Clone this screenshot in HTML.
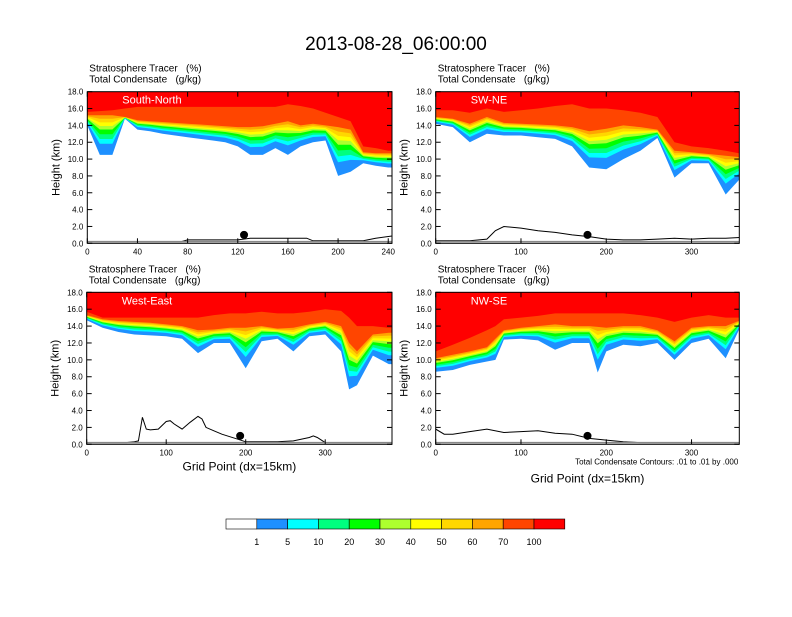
<!DOCTYPE html>
<html><head><meta charset="utf-8"><style>
body{margin:0;background:#fff;width:792px;height:612px;overflow:hidden}
svg text{font-family:"Liberation Sans",sans-serif;fill:#000;white-space:pre}
</style></head><body>
<svg id="chart" width="792" height="612" viewBox="0 0 792 612" xmlns="http://www.w3.org/2000/svg">
<text x="396" y="50" font-size="19" text-anchor="middle">2013-08-28_06:00:00</text>
<g id="panels"></g>
<g id="colorbar"></g>
</svg>
<script>
const NS="http://www.w3.org/2000/svg";
const levelLabels=["1","5","10","20","30","40","50","60","70","100"];
const colors=["#ffffff","#1e90ff","#00ffff","#00ff7f","#00ff00","#adff2f","#ffff00","#ffd700","#ffa500","#ff4500","#ff0000"];
const fracs=[0,0.28,0.4,0.52,0.64,0.73,0.82,0.91,1];
// Panel 1 South-North
const p1x=[0,10,20,30,40,50,60,70,80,90,100,110,120,130,140,150,160,170,180,190,200,210,220,230,240,250];
const p1base=[14,10.5,10.5,14.8,13.5,13.3,13,12.8,12.6,12.4,12.2,12,11.5,10.5,10.5,11.3,10.5,11.5,12,12.2,8,8.5,9.5,9.2,9,9];
const p1l70=[15.2,15.2,15.2,15,14.6,14.5,14.4,14.3,14.2,14.1,14,13.9,13.8,13.8,13.9,14.2,14.5,14,14.2,14,13.8,13.5,10.8,10.7,10.7,10.7];
const p1l100=[15.6,15.7,15.8,16,16.2,16.2,16.2,16.2,16.2,16.2,16.2,16.2,16.2,16.2,16.2,16.2,16.5,16.3,16,15.5,15,14.5,11.5,11.3,11,11];
const p1tx=[0,40,75,80,120,130,175,180,220,230,245];
const p1ter=[0.2,0.2,0.2,0.4,0.4,0.6,0.6,0.3,0.3,0.6,0.9];
// Panel 2 SW-NE
const p2x=[0,20,40,60,80,100,120,140,160,180,200,220,240,260,280,300,320,340,360];
const p2base=[14.2,13.8,12,13,12.8,12.8,12.6,12.4,11.5,9,8.8,10,11,12.5,7.8,9.5,9.5,5.8,8];
const p2l70=[15,14.8,14.2,15,14.3,14.2,14.1,14,13.8,13.3,13.6,14,13.8,13.5,11,10.8,10.6,10.4,10.2];
const p2l100=[15.8,15.8,15.5,16,15.6,15.8,16,16.3,16.5,16,16,15.8,15.5,15,12,11.5,11.3,11,10.6];
const p2tx=[0,20,40,60,70,80,100,120,140,160,180,200,220,240,260,280,300,320,340,360];
const p2ter=[0.3,0.3,0.3,0.5,1.5,2,1.8,1.5,1.3,1,0.8,0.5,0.4,0.4,0.5,0.6,0.5,0.6,0.6,0.7];
// Panel 3 West-East
const p3x=[0,20,40,60,80,100,120,140,160,180,200,220,240,260,280,300,320,330,340,360,380,390];
const p3base=[14.7,13.8,13.3,13,12.9,12.8,12.5,10.8,12,12,9,12.2,12.5,11,12.8,13,11,6.5,7,10.5,9.5,9.5];
const p3l70=[15.3,14.8,14.6,14.5,14.4,14.2,14,13.5,13.6,13.8,13.8,14,13.7,13.8,14.2,14.5,14,12,11,13,13.2,13.2];
const p3l100=[15.7,15,15,15,15,15,15,15,15.3,15.5,15.5,15.7,15.5,15.5,15.7,16,15.8,15,14,14,13.8,13.8];
const p3tx=[0,50,60,65,70,75,80,90,100,105,110,120,130,140,145,150,160,170,180,190,200,220,240,260,280,285,290,300,320,384];
const p3ter=[0.2,0.2,0.3,0.4,3.2,1.8,1.7,1.8,2.7,2.8,2.4,1.8,2.6,3.3,3.0,2.0,1.6,1.2,0.9,0.6,0.3,0.3,0.3,0.4,0.8,1.0,0.8,0.2,0.2,0.2];
// Panel 4 NW-SE
const p4x=[0,20,40,60,70,80,100,120,140,160,180,190,200,220,240,260,280,300,320,340,360];
const p4base=[8.6,8.8,9.4,9.8,10,12.4,12.5,12.3,11.2,12,12,8.5,11,11.8,11.6,12,10,12,12.5,10.2,14.5];
const p4l70=[10.2,10.6,11,11.5,12.5,13.5,13.8,14,14.2,14,14,13.9,13.8,14,14,13.5,12.2,13.8,14,14,14.8];
const p4l100=[11,11.8,12.6,13.5,14,14.8,15,15.2,15.5,15.5,15.5,15.5,15.5,15.5,15.3,15,14.5,15,15.3,15,15];
const p4tx=[0,10,20,40,60,80,100,120,140,160,180,200,220,240,360];
const p4ter=[1.8,1.2,1.2,1.5,1.8,1.4,1.5,1.6,1.3,1.2,0.7,0.5,0.3,0.2,0.2];

const panels=[
 {name:"south-north",label:"South-North",L:87.3,R:392,T:91.7,B:243.3,xmax:243,xt:[0,40,80,120,160,200,240],xs:p1x,base:p1base,l70:p1l70,l100:p1l100,tx:p1tx,ter:p1ter,dot:125,xlab:false},
 {name:"sw-ne",label:"SW-NE",L:435.7,R:739.3,T:91.7,B:243.3,xmax:356,xt:[0,100,200,300],xs:p2x,base:p2base,l70:p2l70,l100:p2l100,tx:p2tx,ter:p2ter,dot:178,xlab:false},
 {name:"west-east",label:"West-East",L:86.7,R:392,T:292.3,B:444.3,xmax:384,xt:[0,100,200,300],xs:p3x,base:p3base,l70:p3l70,l100:p3l100,tx:p3tx,ter:p3ter,dot:193,xlab:true},
 {name:"nw-se",label:"NW-SE",L:435.7,R:739.3,T:292.3,B:444.3,xmax:356,xt:[0,100,200,300],xs:p4x,base:p4base,l70:p4l70,l100:p4l100,tx:p4tx,ter:p4ter,dot:178,xlab:true}
];
function mk(tag,attrs,parent){const e=document.createElementNS(NS,tag);for(const k in attrs)e.setAttribute(k,attrs[k]);if(parent)parent.appendChild(e);return e;}
const root=document.getElementById("panels");
panels.forEach((p,pi)=>{
 const g=mk("g",{},root);
 
 
 const sx=v=>p.L+(v/p.xmax)*(p.R-p.L);
 const sy=v=>p.B-(v/18)*(p.B-p.T);
 const cp=mk("clipPath",{id:"clip"+pi},g);
 mk("rect",{x:p.L,y:p.T,width:p.R-p.L,height:p.B-p.T},cp);
 const fg=mk("g",{"clip-path":"url(#clip"+pi+")"},g);
 for(let li=0;li<10;li++){
  const h=p.xs.map((x,i)=>{
   if(li<9) return p.base[i]+fracs[li]*(p.l70[i]-p.base[i]);
   return p.l100[i];
  });
  let d="M"+sx(p.xs[0])+","+sy(18);
  p.xs.forEach((x,i)=>{d+=" L"+sx(x).toFixed(1)+","+sy(h[i]).toFixed(1);});
  d+=" L"+sx(p.xs[p.xs.length-1])+","+sy(18)+" Z";
  const path=mk("path",{d:d,fill:colors[li+1]},fg);
  
  
 }
 const tp=mk("polyline",{points:p.tx.map((x,i)=>sx(x).toFixed(1)+","+sy(p.ter[i]).toFixed(1)).join(" "),fill:"none",stroke:"#000","stroke-width":1},fg);
 
 
 mk("line",{x1:p.L,y1:sy(0.2),x2:p.R,y2:sy(0.2),stroke:"#888","stroke-width":1.5},fg);
 const dot=mk("circle",{cx:sx(p.dot),cy:sy(1),r:4,fill:"#000"},fg);
 
 
 mk("rect",{x:p.L,y:p.T,width:p.R-p.L,height:p.B-p.T,fill:"none",stroke:"#000","stroke-width":1},g);
 for(let v=0;v<=18;v+=2){
  const y=sy(v);
  mk("line",{x1:p.L,y1:y,x2:p.L+5,y2:y,stroke:"#000"},g);
  mk("line",{x1:p.R,y1:y,x2:p.R-5,y2:y,stroke:"#000"},g);
  const t=mk("text",{x:p.L-4,y:y+3,"font-size":8,"text-anchor":"end"},g);
  t.textContent=v.toFixed(1);
  
  
 }
 p.xt.forEach(v=>{
  const x=sx(v);
  mk("line",{x1:x,y1:p.B,x2:x,y2:p.B-5,stroke:"#000"},g);
  mk("line",{x1:x,y1:p.T,x2:x,y2:p.T+5,stroke:"#000"},g);
  const t=mk("text",{x:x,y:p.B+11,"font-size":8,"text-anchor":"middle"},g);
  t.textContent=v;
  
  
 });
 const l=mk("text",{x:p.L+35,y:p.T+12,"font-size":11,style:"fill:#fff"},g);
 l.textContent=p.label;
 
 
 const s1=mk("text",{x:p.L+2,y:p.T-20,"font-size":10},g);
 s1.textContent="Stratosphere Tracer   (%)";
 
 
 const s2=mk("text",{x:p.L+2,y:p.T-9,"font-size":10},g);
 s2.textContent="Total Condensate   (g/kg)";
 
 
 const cy=(p.T+p.B)/2;
 const yl=mk("text",{x:p.L-28,y:cy,"font-size":11,"text-anchor":"middle",transform:"rotate(-90 "+(p.L-28)+" "+cy+")"},g);
 yl.textContent="Height (km)";
 
 
 if(p.xlab){
  const xl=mk("text",{x:(p.L+p.R)/2,y:pi==3?p.B+38:p.B+26,"font-size":12,"text-anchor":"middle"},g);
  xl.textContent="Grid Point (dx=15km)";
  
  
 }
 if(pi==3){
  const n=mk("text",{x:p.R-1,y:p.B+20,"font-size":8,"text-anchor":"end"},g);
  n.textContent="Total Condensate Contours: .01 to .01 by .000";
  
  
 }
});
const cb=document.getElementById("colorbar");
const cbL=226,cbW=30.8,cbT=519,cbH=10;
colors.forEach((c,i)=>{
 const r=mk("rect",{x:cbL+i*cbW,y:cbT,width:cbW,height:cbH,fill:c,stroke:"#000","stroke-width":0.6},cb);
 
 
});
levelLabels.forEach((s,i)=>{
 const t=mk("text",{x:cbL+(i+1)*cbW,y:cbT+26,"font-size":9,"text-anchor":"middle"},cb);
 t.textContent=s;
 
 
});
</script>
</body></html>
